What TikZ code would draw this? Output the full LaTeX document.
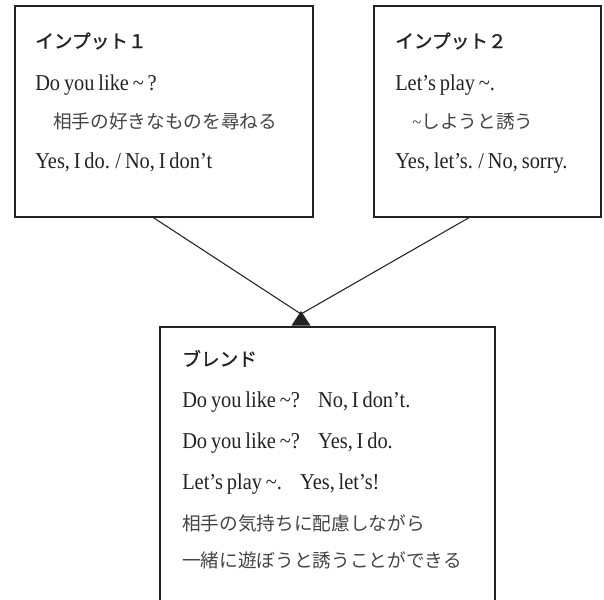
\documentclass[tikz,border=0pt]{standalone}
\usepackage{fontspec}
\setmainfont{Liberation Serif}[WordSpace=0.75, FakeStretch=0.9]
\newfontfamily\jphead{Noto Sans CJK JP}[FakeBold=1.2]
\newfontfamily\jpbody{Noto Sans CJK JP}
\usetikzlibrary{calc}
\definecolor{ink}{HTML}{222222}
\definecolor{jpgray}{HTML}{444444}
\tikzset{
  box/.style={draw=ink, line width=1.4pt, inner sep=0pt, anchor=north west},
  txt/.style={anchor=base west, inner sep=0pt, text=ink, font=\fontsize{17pt}{20pt}\selectfont},
  head/.style={anchor=base west, inner sep=0pt, text=ink, font=\fontsize{14pt}{17pt}\jphead},
  jtxt/.style={anchor=base west, inner sep=0pt, text=jpgray, font=\fontsize{14pt}{17pt}\jpbody},
  conn/.style={draw=ink, line width=0.8pt},
}
\newcommand{\gapsp}{\hspace{0.8em}}
\begin{document}
\begin{tikzpicture}[x=0.75pt,y=-0.75pt]
\useasboundingbox (0,0) rectangle (604,600);
\clip (0,0) rectangle (604,600);
% boxes
\node[box, minimum width=223.5pt, minimum height=158.25pt] (in1) at (14,5) {};
\node[box, minimum width=170.25pt, minimum height=158.25pt] (in2) at (373,5) {};
\node[box, minimum width=251.25pt, minimum height=225pt] (bl) at (159,326) {};
% input 1
\node[head] (h1) at (35,48) {インプット１};
\node[txt] (a1) at (35,90) {Do you like \textasciitilde\ ?};
\node[jtxt] (a2) at (53,128) {相手の好きなものを尋ねる};
\node[txt] (a3) at (35,168) {Yes, I do. / No, I don’t};
% input 2
\node[head] (h2) at (395,48) {インプット２};
\node[txt] (b1) at (395,90) {Let’s play \textasciitilde.};
\node[jtxt] (b2) at (412,128) {{\rmfamily\textasciitilde}しようと誘う};
\node[txt] (b3) at (395,168) {Yes, let’s. / No, sorry.};
% blend
\node[head] (h3) at (182,366) {ブレンド};
\node[txt] (c1) at (182,407) {Do you like \textasciitilde?\gapsp No, I don’t.};
\node[txt] (c2) at (182,448) {Do you like \textasciitilde?\gapsp Yes, I do.};
\node[txt] (c3) at (182,489) {Let’s play \textasciitilde.\gapsp Yes, let’s!};
\node[jtxt] (c4) at (182,530) {相手の気持ちに配慮しながら};
\node[jtxt] (c5) at (182,567) {一緒に遊ぼうと誘うことができる};
% connectors
\coordinate (tip) at (301,314);
\draw[conn] ($(in1.south west)!0.466!(in1.south east)$) -- (tip);
\draw[conn] ($(in2.south west)!0.418!(in2.south east)$) -- (tip);
\fill[ink] (291.5,325.5) -- (301,311) -- (310.5,325.5) -- cycle;
\end{tikzpicture}
\end{document}
